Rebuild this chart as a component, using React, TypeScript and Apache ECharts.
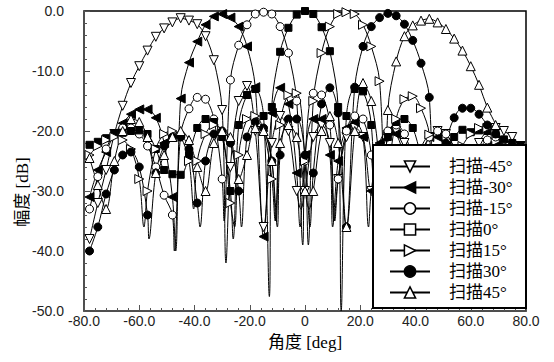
import React, { useEffect, useRef } from 'react';
import * as echarts from 'echarts';

const ANGLES = [
  -78, -75, -72, -69, -66, -63, -60, -57, -54, -51, -48, -45,
  -42, -39, -36, -33, -30, -27, -24, -21, -18, -15, -12, -9, -6, -3,
  0, 3, 6, 9, 12, 15, 18, 21, 24, 27, 30, 33, 36, 39, 42, 45, 48, 51, 54, 57, 60, 63, 66, 69, 72, 75, 78,
];

const X_TICKS = [-80, -60, -40, -20, 0, 20, 40, 60, 80];
const Y_TICKS = [0, -10, -20, -30, -40, -50];

const NAMES = ['扫描-45°', '扫描-30°', '扫描-15°', '扫描0°', '扫描15°', '扫描30°', '扫描45°'];

const SCAN_M45 = [
  -38, -32, -26.5, -20.5, -15.8, -12, -9.2, -6.6, -4.3, -2.9, -1.9, -1.2,
  -1.6, -2.2, -4.2, -8.2, -16.5, -26, -15, -12.5, -20, -36, -22, -17.5, -20, -30,
  -30, -21, -19, -22, -28, -21, -19.5, -21, -30, -24, -21, -20, -22, -30, -24, -21, -20, -20.5, -23, -30, -27, -22, -20, -19.5, -20, -21, -22.5,
];
const SCAN_M30 = [
  -31, -26.5, -23.5, -20.5, -18.7, -17.2, -16.4, -16.4, -17.8, -22, -31, -14.6,
  -8.6, -5.1, -2.3, -0.9, -0.5, -1.1, -2.6, -5.9, -12.7, -37.6, -17, -12.8, -15.5, -27,
  -24, -18, -18, -24, -25, -19.5, -18.5, -21, -30, -22, -20, -20.5, -25, -32, -23, -21, -21, -22.5, -27, -34, -26, -23.5, -22.5, -22.5, -23.5, -25, -27,
];
const SCAN_M15 = [
  -33, -27.6, -23, -20.5, -19.5, -19.5, -20.5, -22.5, -26, -30.7, -34, -20.6,
  -16.3, -14.4, -14.7, -18, -28, -11.5, -5.7, -2.3, -0.5, -0.2, -0.5, -2.6, -7, -15,
  -25, -13.7, -14, -19, -28, -20, -17.5, -18, -24, -25, -20, -19, -20.5, -25, -25, -21, -20, -20.5, -23, -30, -28, -23, -21.5, -21, -21.5, -22.5, -24,
];
const SCAN_0 = [
  -22.3, -21.8, -21.2, -20.5, -20.3, -20, -19.9, -20.5, -23, -26.5, -27.2, -27.3,
  -24, -19.5, -18, -18.5, -21, -30, -19, -14, -13, -17.5, -16, -6.8, -2.8, -0.6,
  0, -0.5, -2.7, -6.7, -16, -17.5, -13, -13.4, -19, -30, -21, -18.5, -18, -19.5, -24, -27.3, -27, -24, -21, -19.8, -20.2, -19.9, -20, -20.5, -21.4, -22, -22.5,
];
const SCAN_15 = [
  -24, -22.5, -21.5, -21, -21.5, -23, -28, -30, -23, -20.5, -20, -21,
  -25, -25, -20.5, -19, -20, -32, -24, -18, -17.5, -20, -28, -19, -14, -13.7,
  -25, -15, -7, -2.6, -0.5, -0.2, -0.5, -2.3, -5.9, -11.7, -28, -18, -14.7, -14.2, -16.2, -20.6, -34, -30.7, -26, -22.5, -20.5, -19.5, -19.5, -20.5, -23, -27.6, -33,
];
const SCAN_30 = [
  -40, -36, -30.5, -26.5, -24, -23.5, -26, -34, -27, -22.5, -21, -21,
  -23, -32, -25, -20.5, -20, -22, -30, -21, -18.5, -19.5, -25, -24, -18, -18,
  -24, -27, -15.5, -12.8, -17, -36, -12.7, -5.9, -2.6, -1.1, -0.4, -0.8, -2.2, -4.9, -8.7, -14.4, -31, -22, -17.8, -16.2, -16.2, -17.2, -19, -20.5, -23.5, -26.5, -31,
];
const SCAN_45 = [
  -24.5, -29, -33, -25, -20, -18, -18.5, -21, -27, -24, -21, -20,
  -21.5, -26, -30, -22, -20, -21, -28, -24, -19.5, -20, -25, -22, -19, -21,
  -30, -30, -20, -17.5, -22, -36, -20, -12, -15, -26, -16.5, -8.4, -4.2, -2.4, -1.6, -1.3, -1.9, -3.0, -4.6, -6.6, -9.2, -12.3, -16.1, -19, -24, -30, -36,
];

// deep nulls between the marked samples (drawn by the line, without a marker)
const NULLS_M45 = [[-28.6, -42], [-1.5, -33], [10.5, -35]];
const NULLS_M30 = [[-46.8, -40], [-1.8, -36], [10, -36], [23, -36], [38, -36], [56.5, -38]];
const NULLS_M15 = [[-47.3, -40], [-29.3, -35], [-0.8, -39], [10.8, -35], [25.2, -34], [40.3, -33], [58.3, -36]];
const NULLS_0 = [[-26, -38], [-12.9, -47.6], [13.1, -50], [26, -38]];
const NULLS_15 = [[-58.3, -36], [-40.3, -33], [-25.5, -36], [-10.8, -35], [1.2, -39], [29.3, -35], [47.3, -40]];
const NULLS_30 = [[-56.5, -38], [-38, -36], [-23, -36], [-10, -36], [1.8, -36], [46.8, -40]];
const NULLS_45 = [[-10.5, -35], [1.5, -33], [28.6, -42]];

const SANS = '"Liberation Sans", Arial, "Noto Sans CJK SC", sans-serif';
const SERIF = '"Liberation Serif", "DejaVu Serif", "Noto Sans CJK SC", serif';

function buildData(values: number[], nulls: number[][]) {
  const pts: any[] = ANGLES.map((a, i) => ({ value: [a, values[i]] }));
  const extra = nulls.map(([a, v]) => ({ value: [a, v], symbol: 'none', symbolSize: 0 }));
  return pts.concat(extra).sort((p, q) => p.value[0] - q.value[0]);
}

const DEFS = [
  { values: SCAN_M45, nulls: NULLS_M45, symbol: 'triangle', rotate: 180, filled: false, size: 9 },
  { values: SCAN_M30, nulls: NULLS_M30, symbol: 'triangle', rotate: 90, filled: true, size: 9 },
  { values: SCAN_M15, nulls: NULLS_M15, symbol: 'circle', rotate: 0, filled: false, size: 8 },
  { values: SCAN_0, nulls: NULLS_0, symbol: 'rect', rotate: 0, filled: true, size: 7 },
  { values: SCAN_15, nulls: NULLS_15, symbol: 'triangle', rotate: -90, filled: false, size: 9 },
  { values: SCAN_30, nulls: NULLS_30, symbol: 'circle', rotate: 0, filled: true, size: 8 },
  { values: SCAN_45, nulls: NULLS_45, symbol: 'triangle', rotate: 0, filled: false, size: 9 },
];

export default function App() {
  const ref = useRef<HTMLDivElement>(null);
  useEffect(() => {
    if (!ref.current) return;
    const chart = echarts.init(ref.current, null, { renderer: 'svg' });
    const series = DEFS.map((d, i) => ({
      name: NAMES[i],
      type: 'line',
      data: buildData(d.values, d.nulls),
      smooth: 0.35,
      symbol: d.symbol,
      symbolRotate: d.rotate,
      symbolSize: d.size,
      showAllSymbol: true,
      lineStyle: { color: '#000', width: 1 },
      itemStyle: { color: d.filled ? '#000' : '#fff', borderColor: '#000', borderWidth: 1 },
      emphasis: { disabled: true },
      z: 2,
    }));
    const option: any = {
      animation: false,
      backgroundColor: '#fff',
      grid: { left: 84, right: 28, top: 11, bottom: 51, show: true, borderColor: '#000', borderWidth: 1.5 },
      xAxis: {
        type: 'value', min: X_TICKS[0], max: X_TICKS[X_TICKS.length - 1], interval: 20,
        axisLine: { onZero: false, lineStyle: { color: '#555', width: 1.5 } },
        axisTick: { inside: true, length: 6, lineStyle: { color: '#555' } },
        minorTick: { show: true, splitNumber: 5, length: 3, lineStyle: { color: '#555' } },
        splitLine: { show: false },
        axisLabel: {
          formatter: (v: number) => (v === 0 ? '0' : v.toFixed(1)),
          fontFamily: SANS, fontSize: 14, color: '#222', margin: 3,
        },
      },
      yAxis: {
        type: 'value', min: Y_TICKS[Y_TICKS.length - 1], max: Y_TICKS[0], interval: 10,
        axisLine: { onZero: false, lineStyle: { color: '#555', width: 1.5 } },
        axisTick: { inside: true, length: 6, lineStyle: { color: '#555' } },
        minorTick: { show: true, splitNumber: 5, length: 3, lineStyle: { color: '#555' } },
        splitLine: { show: false },
        axisLabel: {
          formatter: (v: number) => v.toFixed(1),
          fontFamily: SANS, fontSize: 14, color: '#222', margin: 20,
        },
      },
      legend: {
        orient: 'vertical', left: 389, top: 158, padding: 0,
        itemWidth: 40, itemHeight: 14, itemGap: 4, selectedMode: false, z: 10,
        lineStyle: { width: 2 },
        itemStyle: { borderWidth: 1.5 },
        textStyle: { fontSize: 17, fontFamily: SERIF, color: '#000', padding: [0, 0, 0, 14] },
        data: NAMES.map((n, i) => (i === 3 ? { name: n, itemStyle: { color: '#fff', borderColor: '#000', borderWidth: 1.5 } } : { name: n })),
      },
      graphic: [
        { type: 'rect', z: 6, shape: { x: 373, y: 145, width: 153, height: 163 }, style: { fill: '#fff', stroke: '#000', lineWidth: 2 } },
        { type: 'text', x: 305, y: 342, style: { text: '角度 [deg]', fontSize: 17, fontFamily: SERIF, fill: '#000', align: 'center', verticalAlign: 'middle' } },
        { type: 'text', x: 22, y: 192, rotation: Math.PI / 2, style: { text: '幅度 [dB]', fontSize: 17, fontFamily: SERIF, fill: '#000', align: 'center', verticalAlign: 'middle' } },
      ],
      series,
    };
    chart.setOption(option);
    return () => chart.dispose();
  }, []);
  return <div ref={ref} style={{ position: 'absolute', left: 0, top: 0, width: 554, height: 362 }} />;
}
